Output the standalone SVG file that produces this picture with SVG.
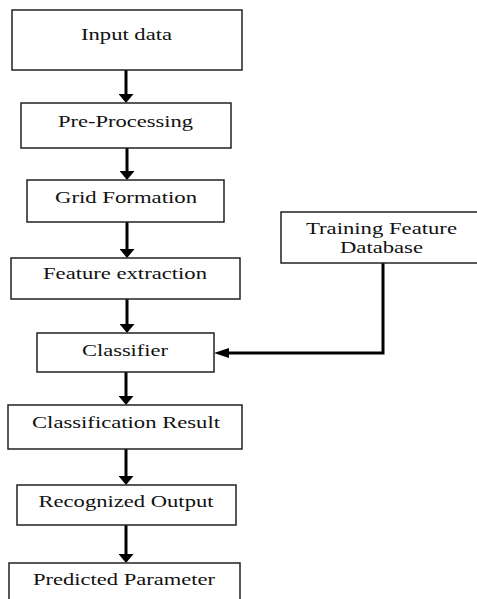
<svg xmlns="http://www.w3.org/2000/svg" width="477" height="599" viewBox="0 0 477 599">
<style>
.box{fill:#fff;stroke:#222;stroke-width:1.5}
.t{font-family:"Liberation Serif","Times New Roman",serif;font-size:17px;fill:#111;text-anchor:middle}
.c{stroke:#000;stroke-width:3;fill:none}
</style>
<defs>
<marker id="ad" markerUnits="userSpaceOnUse" viewBox="0 0 9 15" refX="0" refY="7.5" markerWidth="9" markerHeight="15" orient="auto"><path d="M0,0 L9,7.5 L0,15 z" fill="#000"/></marker>
<marker id="al" markerUnits="userSpaceOnUse" viewBox="0 0 15 10" refX="0" refY="5" markerWidth="15" markerHeight="10" orient="auto"><path d="M0,0 L15,5 L0,10 z" fill="#000"/></marker>
</defs>
<rect width="477" height="599" fill="#fff"/>
<g id="connectors">
<line class="c" x1="126" y1="70" x2="126" y2="94" marker-end="url(#ad)"/>
<line class="c" x1="127" y1="148" x2="127" y2="171" marker-end="url(#ad)"/>
<line class="c" x1="127" y1="222" x2="127" y2="249" marker-end="url(#ad)"/>
<line class="c" x1="127" y1="299" x2="127" y2="324" marker-end="url(#ad)"/>
<line class="c" x1="126" y1="372" x2="126" y2="396" marker-end="url(#ad)"/>
<line class="c" x1="126" y1="449" x2="126" y2="476" marker-end="url(#ad)"/>
<line class="c" x1="126" y1="525" x2="126" y2="554" marker-end="url(#ad)"/>
<polyline class="c" points="383,263 383,353 229,353" marker-end="url(#al)"/>
</g>
<g id="input">
<rect class="box" x="12" y="10" width="230" height="60"/>
<text class="t" x="126.5" y="39.5" textLength="91" lengthAdjust="spacingAndGlyphs">Input data</text>
</g>
<g id="preprocessing">
<rect class="box" x="21" y="103" width="210" height="45"/>
<text class="t" x="125.5" y="127" textLength="135" lengthAdjust="spacingAndGlyphs">Pre-Processing</text>
</g>
<g id="grid">
<rect class="box" x="27" y="180" width="197" height="42"/>
<text class="t" x="126" y="203" textLength="142" lengthAdjust="spacingAndGlyphs">Grid Formation</text>
</g>
<g id="feature">
<rect class="box" x="11" y="258" width="229" height="41"/>
<text class="t" x="125" y="279" textLength="164" lengthAdjust="spacingAndGlyphs">Feature extraction</text>
</g>
<g id="classifier">
<rect class="box" x="37" y="333" width="177" height="39"/>
<text class="t" x="125" y="356" textLength="86" lengthAdjust="spacingAndGlyphs">Classifier</text>
</g>
<g id="result">
<rect class="box" x="8" y="405" width="234" height="44"/>
<text class="t" x="126" y="428" textLength="188" lengthAdjust="spacingAndGlyphs">Classification Result</text>
</g>
<g id="recognized">
<rect class="box" x="17" y="485" width="219" height="40"/>
<text class="t" x="126" y="507" textLength="175" lengthAdjust="spacingAndGlyphs">Recognized Output</text>
</g>
<g id="predicted">
<rect class="box" x="9" y="563" width="231" height="45"/>
<text class="t" x="124" y="585" textLength="182" lengthAdjust="spacingAndGlyphs">Predicted Parameter</text>
</g>
<g id="training">
<rect class="box" x="281" y="212" width="200" height="51"/>
<text class="t" x="381.5" y="234" textLength="151" lengthAdjust="spacingAndGlyphs">Training Feature</text>
<text class="t" x="381.5" y="253" textLength="83" lengthAdjust="spacingAndGlyphs">Database</text>
</g>
</svg>
